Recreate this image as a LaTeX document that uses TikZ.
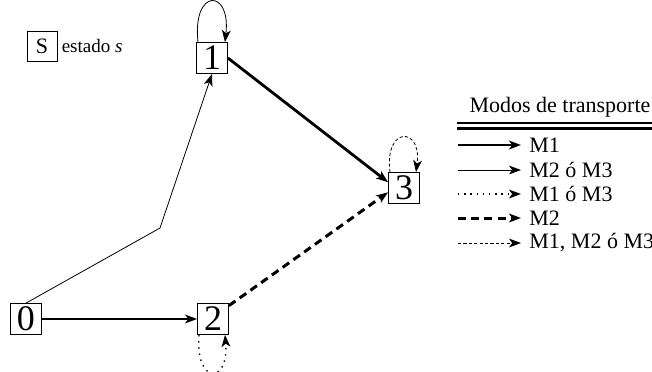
\documentclass[tikz,border=0pt]{standalone}
\usepackage{fontspec}
\setmainfont{Liberation Serif}
\usetikzlibrary{arrows.meta,positioning}
\begin{document}
\begin{tikzpicture}[x=0.5pt, y=-0.5pt,
  state/.style={draw, line width=0.4pt, minimum size=15.5pt, inner sep=0pt, font=\fontsize{18}{18}\selectfont},
  >={Stealth[length=6pt, width=4.4pt, inset=1.6pt]},
  modeA/.style={->, line width=1.4pt},
  modeB/.style={->, line width=0.4pt},
  modeC/.style={->, line width=0.7pt, dash pattern=on 0.7pt off 2.4pt},
  modeD/.style={->, line width=1.5pt, dash pattern=on 4pt off 2.6pt},
  modeE/.style={->, line width=0.4pt, dash pattern=on 1.6pt off 1.1pt},
  keytext/.style={anchor=west, inner sep=4pt, font=\fontsize{11}{11}\selectfont}]
\useasboundingbox (0,0) rectangle (652,371);
%	\draw[help lines, step=50] (0,0) grid (652,371);
	% states
	\node[state] (s0) at (26,319) {0};
	\node[state] (s1) at (212,58) {1};
	\node[state] (s2) at (213,319) {2};
	\node[state] (s3) at (404,188) {3};
	\coordinate (kink) at (160,228);
	% transitions
	\draw[modeB] (s0.north) -- (kink) -- (s1.south);
	\draw[modeA] (s0.east) -- (s2.west);
	\draw[modeA] (s1.east) -- (s3.160);
	\draw[modeD] (s2.40) -- (s3.195);
	\draw[modeB] ([xshift=-7pt]s1.north) .. controls +(-3pt,27pt) and +(3pt,27pt) .. ([xshift=6.5pt]s1.north);
	\draw[modeE] ([xshift=-7pt]s3.north) .. controls +(-3pt,23pt) and +(3pt,23pt) .. ([xshift=6pt]s3.north);
	\draw[modeC] ([xshift=-7pt]s2.south) .. controls +(-2pt,-25pt) and +(2pt,-25pt) .. ([xshift=6pt]s2.south);
	% state key
	\node[draw, line width=0.4pt, minimum size=15pt, inner sep=0pt, font=\fontsize{11}{11}\selectfont] (key) at (42,46) {S};
	\node[right=1pt of key, inner sep=1pt, font=\fontsize{9.5}{9.5}\selectfont] (key label) {estado \textit{s}};
	% transport modes
	\node[font=\fontsize{11}{11}\selectfont] (modes) at (560,107) {Modos de transporte};
	\draw[line width=0.6pt] (457,123) -- (652,123);
	\draw[line width=1.2pt] (457,128.5) -- (652,128.5);
	\coordinate (a1) at (458,145);
	\coordinate (a2) at (458,170);
	\coordinate (a3) at (458,194);
	\coordinate (a4) at (458,218);
	\coordinate (a5) at (458,243);
	\node[keytext] (m1) at (521,145) {M1};
	\node[keytext] (m2) at (521,170) {M2 ó M3};
	\node[keytext] (m3) at (521,194) {M1 ó M3};
	\node[keytext] (m4) at (521,218) {M2};
	\node[keytext] (m5) at (521,243) {M1, M2 ó M3};
	\draw[modeA] (a1) -- (m1.west);
	\draw[modeB] (a2) -- (m2.west);
	\draw[modeC] (a3) -- (m3.west);
	\draw[modeD] (a4) -- (m4.west);
	\draw[modeE] (a5) -- (m5.west);
\end{tikzpicture}
\end{document}
